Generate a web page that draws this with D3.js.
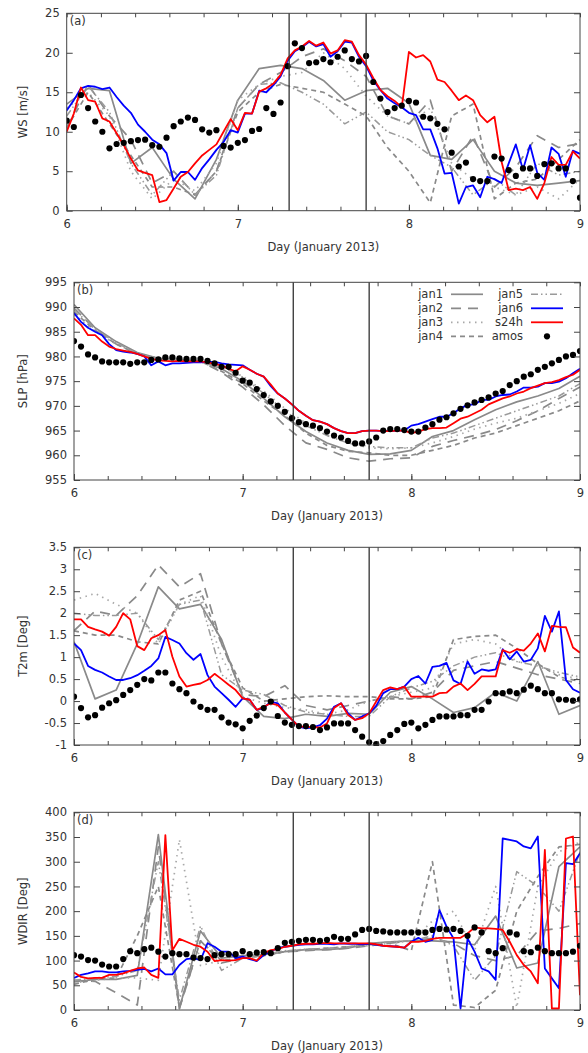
<!DOCTYPE html>
<html>
<head>
<meta charset="utf-8">
<script src="https://cdn.jsdelivr.net/npm/d3@7"></script>
<style>
  body { margin: 0; background: #fff; }
  svg { display: block; font-family: "DejaVu Sans", sans-serif; }
</style>
</head>
<body>
<svg id="chart" width="588" height="1053"></svg>
<script>
// hours after 6 Jan 2013 00 UTC: amos / jan6 / s24h hourly, grey runs every 3 h
const hourly = d3.range(0, 73);
const every3h = d3.range(0, 73, 3);
const markLines = [7.3, 7.75];

// ---- (a) wind speed ----
const wsAmos = [11.4,10.6,14.65,13.0,11.3,10.0,7.9,8.45,8.6,8.8,8.95,9.0,8.3,8.1,9.25,10.7,11.3,11.8,11.5,10.3,
  9.9,10.2,8.2,8.0,8.6,8.95,10.1,10.35,13.0,12.25,13.7,18.3,21.2,20.6,18.7,18.8,19.2,18.8,19.5,20.3,
  19.2,18.9,19.6,16.3,14.2,12.5,13.0,13.3,13.9,13.7,11.9,11.7,11.0,10.3,7.35,5.6,6.1,4.0,3.75,3.75,
  6.85,6.6,5.15,4.4,5.35,5.35,4.4,5.9,6.0,5.35,5.35,3.75,1.65];
const wsJan6 = [12.7,14.0,15.5,15.8,15.7,15.4,15.6,14.4,13.3,12.4,10.9,10.0,9.0,8.4,7.3,3.8,4.9,4.9,3.9,5.4,
  6.5,7.7,8.7,10.2,9.9,12.3,12.3,15.2,15.0,15.9,17.0,19.0,20.2,20.7,21.4,20.8,21.1,19.5,20.2,21.4,
  21.3,19.5,18.3,16.5,15.3,14.2,13.6,13.1,12.4,12.1,10.3,10.3,7.9,4.7,4.8,0.9,3.0,3.2,1.7,4.3,
  4.0,3.5,6.0,8.4,5.2,8.3,4.8,3.9,8.0,7.2,4.3,7.6,7.2];
const wsS24h = [10.0,12.3,15.6,14.0,13.8,11.7,11.3,9.8,8.3,6.6,5.1,4.8,4.5,1.1,1.35,2.8,4.3,4.9,6.0,7.0,
  7.7,8.4,10.0,11.6,10.2,12.4,12.3,15.1,15.5,16.1,17.2,19.3,20.3,20.8,21.5,20.9,21.3,19.9,20.3,21.6,
  21.4,19.7,18.5,16.8,15.3,14.5,13.9,13.1,20.1,19.4,19.7,18.9,16.6,16.3,15.2,14.0,14.6,14.0,12.1,11.2,
  11.9,6.2,2.6,2.8,2.6,3.0,1.5,3.5,6.8,5.8,5.8,7.5,6.6];
const wsJan1 = [13.5,15.5,15.2,6.0,8.0,4.0,1.5,6.5,14.0,18.0,18.4,18.0,16.5,14.0,15.2,15.5,13.6,7.0,6.5,9.0,5.0,3.5,3.2,3.5,3.8];
const wsJan2 = [10.5,16.0,12.0,9.0,3.5,5.0,2.0,5.0,13.0,16.0,17.5,19.5,20.5,19.0,17.0,12.0,11.0,14.0,5.0,9.5,3.0,5.5,9.5,8.0,8.5];
const wsJan3 = [13.0,15.0,12.0,5.0,1.5,4.0,2.5,6.0,14.0,16.0,17.0,17.5,20.0,18.0,14.5,12.0,11.0,13.0,6.0,4.0,3.0,2.0,3.0,1.5,4.0];
const wsJan4 = [10.5,15.0,11.0,7.0,3.0,3.0,2.0,5.0,12.5,15.0,16.0,15.5,15.0,13.5,12.0,8.0,5.0,1.0,12.0,13.5,1.5,3.5,4.0,6.5,9.0];
const wsJan5 = [12.0,15.8,12.5,6.0,2.0,5.0,2.0,4.5,13.0,16.0,16.2,15.0,13.5,11.0,12.5,10.0,9.0,7.0,5.5,2.0,4.0,2.0,6.0,4.5,5.0];

// ---- (b) sea level pressure ----
const slpAmos = [983.1,982.0,980.4,979.8,979.0,978.8,978.8,978.8,978.5,978.8,978.8,979.3,979.4,979.8,979.8,979.6,979.5,979.5,979.5,979.1,
  978.6,977.9,977.9,976.7,975.1,974.7,973.4,972.2,970.9,970.0,968.8,967.5,966.7,966.3,966.0,965.5,964.8,964.0,963.6,962.9,
  962.4,962.4,962.8,963.6,965.0,965.3,965.3,965.1,964.8,964.8,965.6,966.3,967.2,967.7,968.5,969.4,970.1,970.7,971.2,971.7,
  972.5,973.0,974.2,975.0,975.9,976.4,977.3,977.9,978.6,979.3,980.0,980.3,981.1];
const slpJan6 = [988.8,987.0,985.8,985.0,984.3,982.5,981.3,981.0,980.8,980.5,980.0,978.2,979.0,978.2,978.6,978.6,978.7,978.8,978.8,978.9,
  978.9,978.6,978.4,978.3,978.2,977.3,976.5,975.9,974.0,972.5,971.5,970.3,969.0,968.0,967.1,966.8,966.3,965.5,964.9,964.5,
  964.5,964.9,965.0,965.0,964.9,964.9,965.0,965.0,966.0,966.3,966.8,967.3,967.8,967.8,968.5,969.5,970.2,970.3,971.2,971.2,
  971.9,972.2,972.3,972.9,973.7,973.7,973.9,974.6,974.6,974.9,975.6,976.6,977.5];
const slpS24h = [987.7,986.4,984.3,984.3,983.0,982.0,981.5,981.2,980.9,980.5,980.0,979.5,979.2,979.1,979.0,979.1,979.0,979.0,979.0,978.8,
  978.5,978.2,977.5,977.0,978.0,977.3,976.5,975.9,974.3,972.5,971.5,970.3,969.0,968.0,967.1,966.8,966.3,965.5,964.9,964.5,
  964.5,964.9,965.0,965.0,964.9,964.9,965.0,965.0,964.5,964.8,965.3,965.5,965.5,965.6,966.5,967.4,967.8,968.5,969.2,970.3,
  970.9,971.5,971.9,972.5,972.9,973.6,974.1,974.6,974.8,975.2,975.8,976.3,977.3];
const slpJan1 = [990.5,985.8,983.0,980.8,979.6,979.3,979.0,977.5,975.0,971.5,967.8,964.8,962.5,961.0,960.2,960.3,961.0,963.8,965.0,967.2,969.2,970.8,972.0,973.5,976.0];
const slpJan2 = [989.8,985.5,982.5,980.5,979.5,979.3,979.0,976.8,973.8,970.2,966.0,962.5,961.2,959.5,958.8,959.3,959.5,961.8,963.0,964.0,965.2,967.0,969.0,971.5,973.8];
const slpJan3 = [988.5,985.0,982.5,980.5,979.5,979.3,979.0,977.8,976.0,973.0,969.5,966.5,964.0,962.5,961.5,961.3,961.5,962.5,963.8,965.3,966.5,967.5,969.0,970.5,972.5];
const slpJan4 = [989.0,985.3,982.5,980.5,979.6,979.3,979.0,977.0,974.5,971.0,968.0,964.5,962.0,960.8,960.5,960.0,960.0,961.0,962.0,963.5,964.5,966.0,967.5,969.0,971.0];
const slpJan5 = [989.5,985.5,982.8,980.6,979.6,979.4,979.1,978.0,975.8,972.5,969.0,966.0,964.0,962.5,961.8,961.5,961.5,963.5,964.5,966.0,967.5,969.0,970.5,972.0,974.5];

// ---- (c) 2 m temperature ----
const t2mAmos = [0.10,-0.16,-0.37,-0.32,-0.15,-0.05,0.02,0.14,0.25,0.37,0.50,0.47,0.65,0.65,0.40,0.27,0.18,-0.01,-0.13,-0.20,
  -0.20,-0.37,-0.49,-0.53,-0.62,-0.45,-0.33,-0.16,-0.01,-0.34,-0.49,-0.54,-0.57,-0.57,-0.59,-0.66,-0.60,-0.51,-0.51,-0.51,
  -0.66,-0.81,-0.94,-0.98,-0.91,-0.77,-0.66,-0.52,-0.49,-0.62,-0.54,-0.43,-0.35,-0.35,-0.35,-0.32,-0.32,-0.20,-0.20,-0.01,
  0.18,0.18,0.22,0.18,0.26,0.35,0.27,0.18,0.18,0.04,0.03,0.01,0.04];
const t2mJan6 = [1.31,1.16,0.80,0.71,0.65,0.56,0.48,0.48,0.52,0.59,0.69,0.80,0.97,1.46,1.39,1.31,1.09,0.94,1.07,0.59,
  0.33,0.18,0.03,-0.13,0.06,0.03,-0.20,-0.16,-0.01,-0.05,-0.26,-0.42,-0.58,-0.62,-0.60,-0.55,-0.40,-0.13,-0.05,-0.28,
  -0.43,-0.35,-0.28,-0.11,0.18,0.27,0.27,0.33,0.50,0.57,0.40,0.78,0.80,0.87,0.47,0.39,0.90,0.62,0.72,0.69,
  0.72,1.18,0.95,1.13,0.90,0.94,1.20,1.94,1.58,2.04,0.48,0.27,0.19];
const t2mS24h = [1.86,1.86,1.69,1.63,1.58,1.49,1.69,2.0,1.86,1.25,1.16,1.43,1.50,1.62,1.01,0.56,0.33,0.37,0.40,0.48,
  0.62,0.50,0.37,0.25,0.06,0.03,-0.20,-0.13,-0.05,-0.09,-0.26,-0.42,-0.58,-0.58,-0.60,-0.60,-0.51,-0.16,-0.05,-0.32,
  -0.43,-0.39,-0.28,-0.01,0.25,0.31,0.27,0.33,0.10,0.10,0.10,0.10,0.18,0.19,0.33,0.40,0.25,0.39,0.56,0.56,
  0.56,1.16,1.10,1.18,1.15,1.31,1.54,1.13,1.71,1.69,1.68,1.22,1.10];
const t2mJan1 = [1.35,0.05,0.25,1.3,2.6,2.1,2.2,1.4,0.1,-0.35,-0.4,-0.3,-0.35,-0.28,-0.3,0.2,0.33,0.05,-0.26,-0.15,0.2,0.0,0.9,-0.3,-0.1];
const t2mJan2 = [1.6,2.05,1.95,2.4,3.1,2.6,2.9,1.3,0.15,0.1,0.35,-0.1,-0.2,-0.1,0.0,0.1,0.05,0.2,0.7,0.8,0.9,0.75,0.6,0.5,0.4];
const t2mJan3 = [2.3,2.45,2.2,2.0,1.3,2.2,2.4,1.0,0.1,-0.05,-0.15,-0.2,-0.3,-0.2,0.0,0.1,0.2,0.3,1.3,1.4,1.3,0.9,0.8,0.6,0.5];
const t2mJan4 = [1.6,1.5,1.5,1.35,1.3,2.3,2.5,1.3,0.3,0.0,0.05,0.1,0.12,0.1,0.1,0.05,0.05,0.1,1.4,1.47,1.5,1.2,0.85,0.55,0.45];
const t2mJan5 = [2.0,1.95,1.95,2.0,1.4,2.2,2.3,0.6,0.25,0.15,-0.1,-0.25,-0.3,-0.35,-0.35,0.1,0.3,0.45,0.8,1.0,1.1,0.9,0.8,0.65,0.55];

// ---- (d) wind direction ----
const wdirAmos = [111,108,101,100,92,88,88,103,119,115,123,126,118,108,115,113,113,106,105,103,
  111,113,113,113,119,113,116,117,115,125,136,138,140,142,142,140,142,148,144,144,
  153,162,164,160,159,157,157,157,157,157,157,162,164,163,164,160,150,167,157,119,
  115,125,157,153,119,117,126,119,115,115,115,118,130];
const wdirJan6 = [65,71,74,78,78,76,76,78,79,81,83,78,84,72,72,91,103,105,101,135,
  128,118,118,105,108,103,99,111,119,125,128,130,132,133,133,134,134,133,135,134,
  134,133,134,132,130,129,128,126,138,146,138,142,202,169,145,3,145,118,84,78,
  61,347,344,341,331,327,351,84,64,44,297,295,317];
const wdirS24h = [76,67,64,65,65,71,71,74,79,84,86,71,65,354,121,144,138,132,128,118,
  99,101,100,101,105,105,100,115,121,123,128,130,133,134,134,135,136,135,135,135,
  135,135,135,133,130,129,128,126,138,138,140,144,146,146,146,146,155,167,165,165,
  164,162,138,111,91,78,54,324,3,3,347,351,30];
const wdirJan1 = [57,62,62,70,355,3,160,105,110,112,118,122,122,125,135,138,140,140,138,132,190,85,95,290,330];
const wdirJan2 = [60,58,35,10,330,3,140,95,105,110,118,120,122,125,130,135,140,145,135,110,100,110,160,165,175];
const wdirJan3 = [55,60,65,65,60,345,90,100,105,112,118,122,125,128,130,135,140,180,200,120,250,5,250,320,340];
const wdirJan4 = [52,62,65,150,250,5,140,100,105,110,118,122,125,128,132,135,120,300,10,5,40,200,270,330,335];
const wdirJan5 = [60,65,68,80,300,20,170,80,105,112,120,123,125,128,133,138,140,150,130,60,110,280,250,200,320];

const legendCol1 = ["jan1", "jan2", "jan3", "jan4"];
const legendCol2 = ["jan5", "jan6", "s24h", "amos"];

const styles = {
  jan1: { color: "#8a8a8a", width: 1.7, dash: null },
  jan2: { color: "#8a8a8a", width: 1.7, dash: "10,7" },
  jan3: { color: "#a8a8a8", width: 1.7, dash: "1.5,4.5" },
  jan4: { color: "#8a8a8a", width: 1.7, dash: "5,4" },
  jan5: { color: "#9a9a9a", width: 1.5, dash: "7,3,1.5,3,1.5,3" },
  jan6: { color: "#0000ff", width: 1.8, dash: null },
  s24h: { color: "#ff0000", width: 1.8, dash: null }
};

const svg = d3.select("#chart");
const plotRight = 580;
const textColor = "#333";

const panels = [
  { tag: "(a)", ylabel: "WS [m/s]", left: 66.7, top: 13.3, bottom: 210.7, domain: [0, 25], ticks: d3.range(0, 26, 5),
    grey: [wsJan1, wsJan2, wsJan3, wsJan4, wsJan5], jan6: wsJan6, s24h: wsS24h, amos: wsAmos },
  { tag: "(b)", ylabel: "SLP [hPa]", left: 74, top: 282.3, bottom: 480, domain: [955, 995], ticks: d3.range(955, 996, 5),
    grey: [slpJan1, slpJan2, slpJan3, slpJan4, slpJan5], jan6: slpJan6, s24h: slpS24h, amos: slpAmos, legend: true },
  { tag: "(c)", ylabel: "T2m [Deg]", left: 74, top: 547.3, bottom: 745, domain: [-1, 3.5], ticks: d3.range(-1, 3.51, 0.5),
    grey: [t2mJan1, t2mJan2, t2mJan3, t2mJan4, t2mJan5], jan6: t2mJan6, s24h: t2mS24h, amos: t2mAmos },
  { tag: "(d)", ylabel: "WDIR [Deg]", left: 74, top: 812.3, bottom: 1010, domain: [0, 400], ticks: d3.range(0, 401, 50),
    grey: [wdirJan1, wdirJan2, wdirJan3, wdirJan4, wdirJan5], jan6: wdirJan6, s24h: wdirS24h, amos: wdirAmos }
];

const dayOf = h => 6 + h / 24;

panels.forEach((p, i) => {
  const g = svg.append("g");
  const x = d3.scaleLinear().domain([6, 9]).range([p.left, plotRight]);
  const y = d3.scaleLinear().domain(p.domain).range([p.bottom, p.top]);

  // clip
  const clipId = "clip" + i;
  svg.append("clipPath").attr("id", clipId)
    .append("rect")
    .attr("x", p.left).attr("y", p.top - 1)
    .attr("width", plotRight - p.left).attr("height", p.bottom - p.top + 2);

  const plot = g.append("g").attr("clip-path", `url(#${clipId})`);

  const line = (hours) => d3.line()
    .x((d, k) => x(dayOf(hours[k])))
    .y(d => y(d));

  // grey runs jan1..jan5
  p.grey.forEach((vals, k) => {
    const s = styles["jan" + (k + 1)];
    plot.append("path")
      .datum(vals)
      .attr("fill", "none")
      .attr("stroke", s.color)
      .attr("stroke-width", s.width)
      .attr("stroke-dasharray", s.dash)
      .attr("stroke-linejoin", "round")
      .attr("d", line(every3h));
  });

  [["jan6", p.jan6], ["s24h", p.s24h]].forEach(([name, vals]) => {
    plot.append("path")
      .datum(vals)
      .attr("fill", "none")
      .attr("stroke", styles[name].color)
      .attr("stroke-width", styles[name].width)
      .attr("stroke-linejoin", "round")
      .attr("d", line(hourly));
  });

  plot.selectAll(".dot")
    .data(p.amos)
    .enter()
    .append("circle")
    .attr("cx", (d, k) => x(dayOf(hourly[k])))
    .attr("cy", d => y(d))
    .attr("r", 3.1)
    .attr("fill", "#000");

  // marker lines
  markLines.forEach(m => {
    g.append("line")
      .attr("x1", x(m)).attr("x2", x(m))
      .attr("y1", p.top).attr("y2", p.bottom)
      .attr("stroke", "#333").attr("stroke-width", 1.3);
  });

  // axes (ticks inward, mirrored)
  const minor = d3.range(6, 9.001, 0.2).map(v => +v.toFixed(1));
  const styleAxis = sel => {
    sel.select(".domain").remove();
    sel.selectAll("line").attr("stroke", "#444");
    sel.selectAll("text").attr("fill", textColor).style("font-size", "11.5px")
      .style("font-family", '"DejaVu Sans", sans-serif');
  };

  g.append("g").attr("transform", `translate(${p.left},0)`)
    .call(d3.axisLeft(y).tickValues(p.ticks).tickSize(-6).tickPadding(7).tickFormat(d => String(+d.toFixed(1))))
    .call(styleAxis);
  g.append("g").attr("transform", `translate(${plotRight},0)`)
    .call(d3.axisRight(y).tickValues(p.ticks).tickSize(-6).tickFormat(""))
    .call(styleAxis);
  g.append("g").attr("transform", `translate(0,${p.bottom})`)
    .call(d3.axisBottom(x).tickValues(minor).tickSize(-4).tickFormat(""))
    .call(styleAxis);
  g.append("g").attr("transform", `translate(0,${p.bottom})`)
    .call(d3.axisBottom(x).tickValues([6, 7, 8, 9]).tickSize(-6).tickPadding(9).tickFormat(d3.format("d")))
    .call(styleAxis);
  g.append("g").attr("transform", `translate(0,${p.top})`)
    .call(d3.axisTop(x).tickValues(minor).tickSize(-4).tickFormat(""))
    .call(styleAxis);

  // frame
  g.append("rect")
    .attr("x", p.left).attr("y", p.top)
    .attr("width", plotRight - p.left).attr("height", p.bottom - p.top)
    .attr("fill", "none").attr("stroke", "#444").attr("stroke-width", 1);

  // labels
  g.append("text")
    .attr("x", p.left + 3).attr("y", p.top + 12)
    .attr("fill", textColor).style("font-size", "11.5px")
    .text(p.tag);

  g.append("text")
    .attr("x", (p.left + plotRight) / 2).attr("y", p.bottom + 40)
    .attr("text-anchor", "middle")
    .attr("fill", textColor).style("font-size", "11.5px")
    .text("Day (January 2013)");

  g.append("text")
    .attr("transform", `translate(23,${(p.top + p.bottom) / 2}) rotate(-90)`)
    .attr("text-anchor", "middle")
    .attr("dominant-baseline", "central")
    .attr("fill", textColor).style("font-size", "11.5px")
    .text(p.ylabel);

  if (p.legend) {
    const rowY = k => p.top + 12 + k * 14;
    const drawEntry = (name, textRight, k) => {
      const yy = rowY(k);
      g.append("text")
        .attr("x", textRight).attr("y", yy)
        .attr("text-anchor", "end").attr("dominant-baseline", "central")
        .attr("fill", textColor).style("font-size", "11.5px")
        .text(name);
      const x0 = textRight + 8, x1 = textRight + 40;
      if (name === "amos") {
        g.append("circle").attr("cx", (x0 + x1) / 2).attr("cy", yy).attr("r", 3.1).attr("fill", "#000");
      } else {
        const s = styles[name];
        g.append("line")
          .attr("x1", x0).attr("x2", x1).attr("y1", yy).attr("y2", yy)
          .attr("stroke", s.color).attr("stroke-width", s.width)
          .attr("stroke-dasharray", s.dash);
      }
    };
    legendCol1.forEach((n, k) => drawEntry(n, 443, k));
    legendCol2.forEach((n, k) => drawEntry(n, 523, k));
  }
});
</script>
</body>
</html>
